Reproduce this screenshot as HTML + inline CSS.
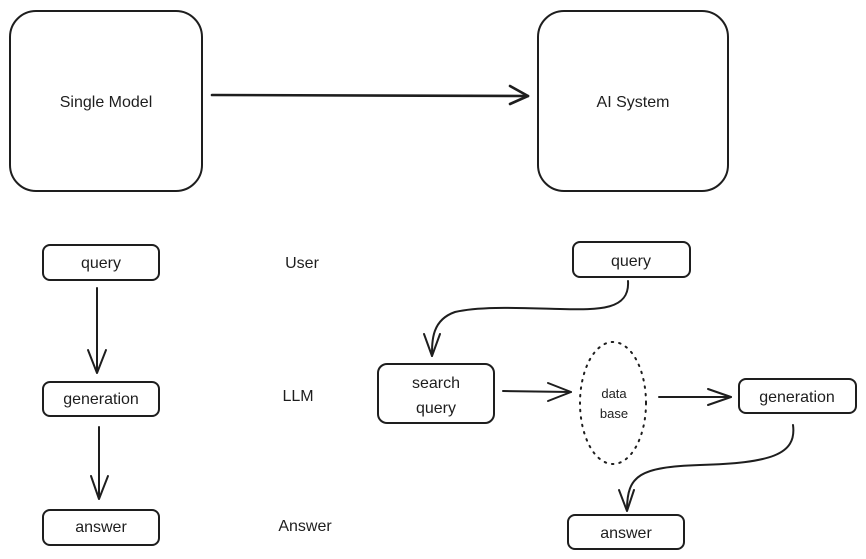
<!DOCTYPE html>
<html><head><meta charset="utf-8"><style>
html,body{margin:0;padding:0;background:#fff;}
svg{display:block;}
text{font-family:"Liberation Sans",sans-serif;fill:#1e1e1e;}
</style></head><body>
<svg width="866" height="559" viewBox="0 0 866 559" xmlns="http://www.w3.org/2000/svg">
<g fill="none" stroke="#1e1e1e" stroke-width="2" stroke-linecap="round" stroke-linejoin="round">
<rect x="10" y="11" width="192" height="180" rx="26"/>
<rect x="538" y="11" width="190" height="180" rx="26"/>
<line x1="212" y1="95" x2="528" y2="96" stroke-width="2.6"/>
<path d="M510 86 L528 96 L510 104" stroke-width="2.6"/>

<rect x="43" y="245" width="116" height="35" rx="7"/>
<rect x="43" y="382" width="116" height="34" rx="7"/>
<rect x="43" y="510" width="116" height="35" rx="7"/>
<line x1="97" y1="288" x2="97" y2="372"/>
<path d="M88 350 L97 373 L106 350"/>
<line x1="99" y1="427" x2="99" y2="498"/>
<path d="M91 476 L99 499 L108 476"/>

<rect x="573" y="242" width="117" height="35" rx="7"/>
<path d="M628 281 C630 310 600 310 560 309 C520 308 480 306 455 312 C432 320 432 340 432 356"/>
<path d="M424 334 L432 356 L440 334"/>
<rect x="378" y="364" width="116" height="59" rx="9"/>
<line x1="503" y1="391" x2="571" y2="392"/>
<path d="M548 383 L571 392 L548 401"/>
<ellipse cx="613" cy="403" rx="33" ry="61" stroke-dasharray="1.5 6"/>
<line x1="659" y1="397" x2="731" y2="397"/>
<path d="M708 389 L731 397 L708 405"/>
<rect x="739" y="379" width="117" height="34" rx="7"/>
<path d="M793 425 C797 455 770 463 700 465 C640 467 627 475 627 510"/>
<path d="M619 490 L627 511 L634 490"/>
<rect x="568" y="515" width="116" height="34" rx="7"/>
</g>
<g font-size="16" text-anchor="middle">
<text x="106" y="107">Single Model</text>
<text x="633" y="107">AI System</text>
<text x="101" y="268">query</text>
<text x="101" y="404">generation</text>
<text x="101" y="532">answer</text>
<text x="302" y="268">User</text>
<text x="298" y="401">LLM</text>
<text x="305" y="531">Answer</text>
<text x="631" y="266">query</text>
<text x="436" y="388">search</text>
<text x="436" y="413">query</text>
<text x="797" y="402">generation</text>
<text x="626" y="538">answer</text>
<text x="614" y="398" font-size="13">data</text>
<text x="614" y="418" font-size="13">base</text>
</g>
</svg>
</body></html>
